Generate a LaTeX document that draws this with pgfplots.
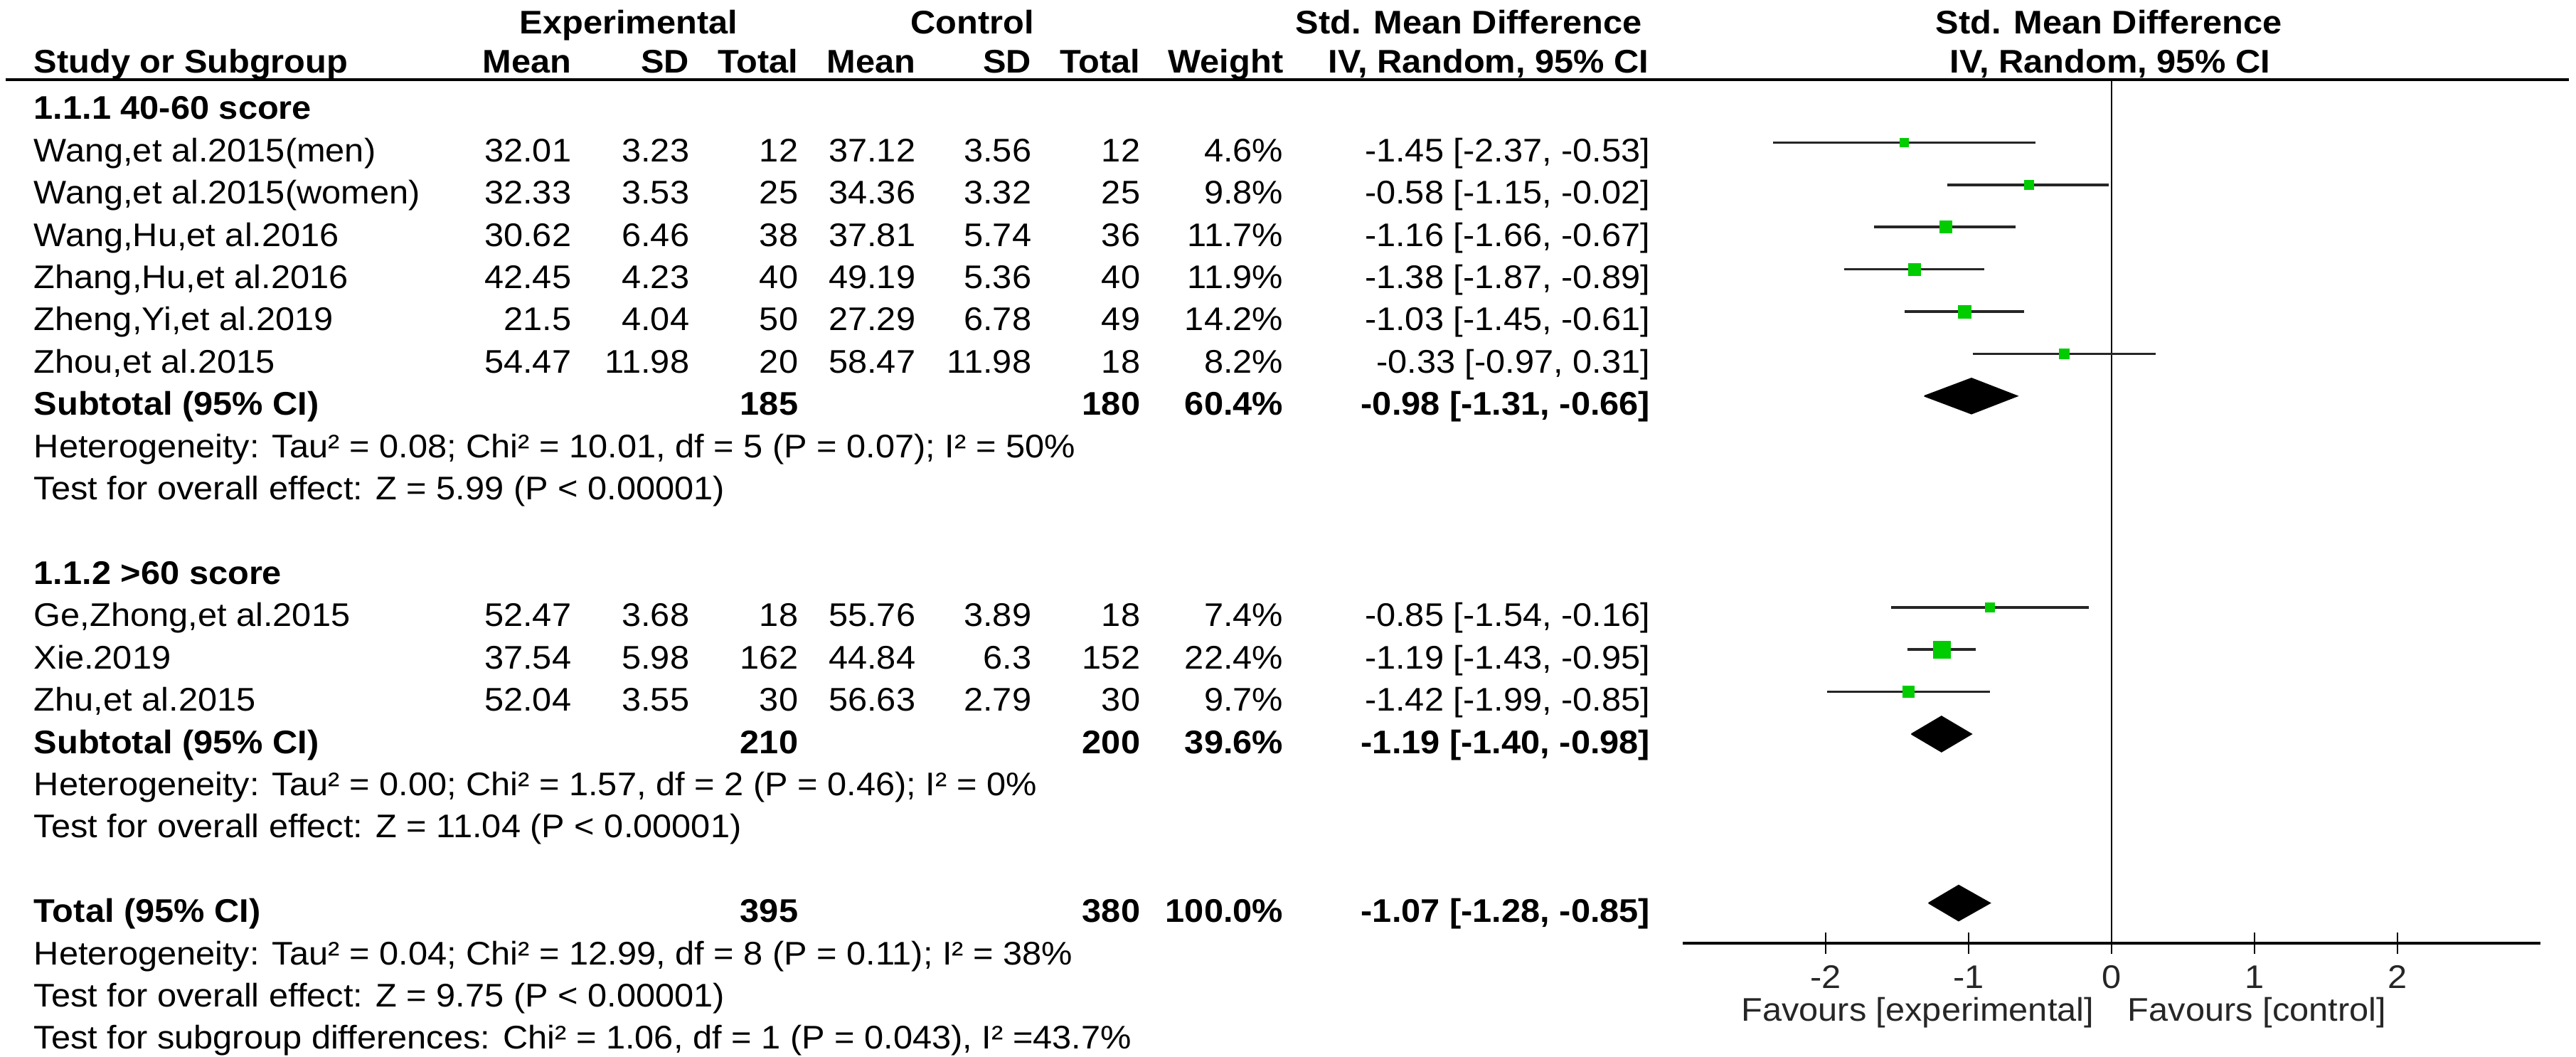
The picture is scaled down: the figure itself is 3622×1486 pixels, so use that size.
\documentclass[border=0pt]{standalone}
\usepackage{pgfplots}
\usepackage{pgfplotstable}
\pgfplotsset{compat=1.18}
\usepackage{fontspec}
\setmainfont{Liberation Sans}[FakeStretch=1.06]
\definecolor{fgreen}{RGB}{0,204,0}
\newcommand{\fs}{\fontsize{11.5pt}{13pt}\selectfont}
\newcommand{\ry}[1]{168+59.4*(#1)}
\newcommand{\lft}[2]{\node[anchor=base west] at (47,{\ry{#1}}) {#2};}
\newcommand{\rt}[3]{\node[anchor=base east] at (#2,{\ry{#1}}) {#3};}
\newcommand{\cells}[9]{%
 \rt{#1}{804}{#2}\rt{#1}{970}{#3}\rt{#1}{1123}{#4}%
 \rt{#1}{1288}{#5}\rt{#1}{1451}{#6}\rt{#1}{1604}{#7}%
 \rt{#1}{1805}{#8}\rt{#1}{2321}{#9}}
\newcommand{\sub}[5]{%
 \rt{#1}{1123}{\bfseries #2}\rt{#1}{1604}{\bfseries #3}%
 \rt{#1}{1805}{\bfseries #4}\rt{#1}{2321}{\bfseries #5}}

% study rows: row (negative index), SMD, lower CI, upper CI, half side of square (pt)
\pgfplotstableread{
row smd lo hi ms
-1 -1.45 -2.37 -0.53 1.5
-2 -0.58 -1.15 -0.02 1.625
-3 -1.16 -1.66 -0.67 2.125
-4 -1.38 -1.87 -0.89 2.125
-5 -1.03 -1.45 -0.61 2.25
-6 -0.33 -0.97 0.31 1.75
-12 -0.85 -1.54 -0.16 1.625
-13 -1.19 -1.43 -0.95 3.0
-14 -1.42 -1.99 -0.85 2.0
}\studies

\begin{document}
\begin{tikzpicture}
\begin{scope}[x=0.25pt,y=-0.25pt,every node/.style={inner sep=0pt,font=\fs}]
\path[use as bounding box] (0,0) rectangle (3622,1486);
\coordinate (axnw) at (2366,112);
% header
\node[anchor=base,font=\fs\bfseries] at (884,48) {Experimental};
\node[anchor=base,font=\fs\bfseries] at (1367,48) {Control};
\node[anchor=base,font=\fs\bfseries] at (2065,48) {Std. Mean Difference};
\node[anchor=base,font=\fs\bfseries] at (2965,48) {Std. Mean Difference};
\node[anchor=base west,font=\fs\bfseries] at (47,103) {Study or Subgroup};
\node[anchor=base east,font=\fs\bfseries] at (804,103) {Mean};
\node[anchor=base east,font=\fs\bfseries] at (970,103) {SD};
\node[anchor=base east,font=\fs\bfseries] at (1123,103) {Total};
\node[anchor=base east,font=\fs\bfseries] at (1288,103) {Mean};
\node[anchor=base east,font=\fs\bfseries] at (1451,103) {SD};
\node[anchor=base east,font=\fs\bfseries] at (1604,103) {Total};
\node[anchor=base east,font=\fs\bfseries] at (1805,103) {Weight};
\node[anchor=base east,font=\fs\bfseries] at (2319,103) {IV, Random, 95\% CI};
\node[anchor=base,font=\fs\bfseries] at (2967,103) {IV, Random, 95\% CI};
\draw[line width=0.9pt] (8,112) -- (3612,112);
% group 1
\lft{0}{\bfseries 1.1.1 40-60 score}
\lft{1}{Wang,et al.2015(men)}
\cells{1}{32.01}{3.23}{12}{37.12}{3.56}{12}{4.6\%}{-1.45 [-2.37, -0.53]}
\lft{2}{Wang,et al.2015(women)}
\cells{2}{32.33}{3.53}{25}{34.36}{3.32}{25}{9.8\%}{-0.58 [-1.15, -0.02]}
\lft{3}{Wang,Hu,et al.2016}
\cells{3}{30.62}{6.46}{38}{37.81}{5.74}{36}{11.7\%}{-1.16 [-1.66, -0.67]}
\lft{4}{Zhang,Hu,et al.2016}
\cells{4}{42.45}{4.23}{40}{49.19}{5.36}{40}{11.9\%}{-1.38 [-1.87, -0.89]}
\lft{5}{Zheng,Yi,et al.2019}
\cells{5}{21.5}{4.04}{50}{27.29}{6.78}{49}{14.2\%}{-1.03 [-1.45, -0.61]}
\lft{6}{Zhou,et al.2015}
\cells{6}{54.47}{11.98}{20}{58.47}{11.98}{18}{8.2\%}{-0.33 [-0.97, 0.31]}
\lft{7}{\bfseries Subtotal (95\% CI)}
\sub{7}{185}{180}{60.4\%}{-0.98 [-1.31, -0.66]}
\lft{8}{Heterogeneity: Tau² = 0.08; Chi² = 10.01, df = 5 (P = 0.07); I² = 50\%}
\lft{9}{Test for overall effect: Z = 5.99 (P < 0.00001)}
% group 2
\lft{11}{\bfseries 1.1.2 >60 score}
\lft{12}{Ge,Zhong,et al.2015}
\cells{12}{52.47}{3.68}{18}{55.76}{3.89}{18}{7.4\%}{-0.85 [-1.54, -0.16]}
\lft{13}{Xie.2019}
\cells{13}{37.54}{5.98}{162}{44.84}{6.3}{152}{22.4\%}{-1.19 [-1.43, -0.95]}
\lft{14}{Zhu,et al.2015}
\cells{14}{52.04}{3.55}{30}{56.63}{2.79}{30}{9.7\%}{-1.42 [-1.99, -0.85]}
\lft{15}{\bfseries Subtotal (95\% CI)}
\sub{15}{210}{200}{39.6\%}{-1.19 [-1.40, -0.98]}
\lft{16}{Heterogeneity: Tau² = 0.00; Chi² = 1.57, df = 2 (P = 0.46); I² = 0\%}
\lft{17}{Test for overall effect: Z = 11.04 (P < 0.00001)}
% total
\lft{19}{\bfseries Total (95\% CI)}
\sub{19}{395}{380}{100.0\%}{-1.07 [-1.28, -0.85]}
\lft{20}{Heterogeneity: Tau² = 0.04; Chi² = 12.99, df = 8 (P = 0.11); I² = 38\%}
\lft{21}{Test for overall effect: Z = 9.75 (P < 0.00001)}
\lft{22}{Test for subgroup differences: Chi² = 1.06, df = 1 (P = 0.043), I² =43.7\%}
% axis captions
\node[anchor=base east,text=black!85] at (2945,1435) {Favours [experimental]};
\node[anchor=base west,text=black!85] at (2991,1435) {Favours [control]};
\end{scope}

\begin{axis}[at={(axnw)}, anchor=north west, scale only axis,
  width=301.5pt, height=303.5pt,
  xmin=-3, xmax=3, ymin=-19.95, ymax=0.488,
  axis x line*=bottom, hide y axis,
  x axis line style={line width=0.9pt,-},
  xtick={-2,-1,0,1,2}, xticklabels={-2,-1,0,1,2},
  tick align=center, major tick length=7.5pt,
  xtick style={line width=0.6pt,black},
  xticklabel style={font=\fs, text=black!85, inner sep=0pt, yshift=-4pt},
  clip=false]
\addplot[line width=0.5pt, black] coordinates {(0,0.488) (0,-19.95)};
\addplot[only marks, mark=text, text mark={},
  error bars/.cd, x dir=both, x explicit, error mark=none,
  error bar style={line width=0.9pt,black!85}]
  table[x=smd, y=row, x error plus expr=\thisrow{hi}-\thisrow{smd},
        x error minus expr=\thisrow{smd}-\thisrow{lo}] \studies;
\addplot[scatter, only marks, mark=square*, line width=0.1pt,
  scatter/use mapped color={draw=fgreen, fill=fgreen},
  visualization depends on={\thisrow{ms} \as \msz},
  scatter/@pre marker code/.append style={/tikz/mark size=\msz}]
  table[x=smd, y=row] \studies;
% pooled estimates
\addplot[draw=black, fill=black] coordinates {(-1.31,-7) (-0.98,-6.58) (-0.66,-7) (-0.98,-7.42) (-1.31,-7)};
\addplot[draw=black, fill=black] coordinates {(-1.40,-15) (-1.19,-14.58) (-0.98,-15) (-1.19,-15.42) (-1.40,-15)};
\addplot[draw=black, fill=black] coordinates {(-1.28,-19) (-1.07,-18.58) (-0.85,-19) (-1.07,-19.42) (-1.28,-19)};
\end{axis}
\end{tikzpicture}
\end{document}
